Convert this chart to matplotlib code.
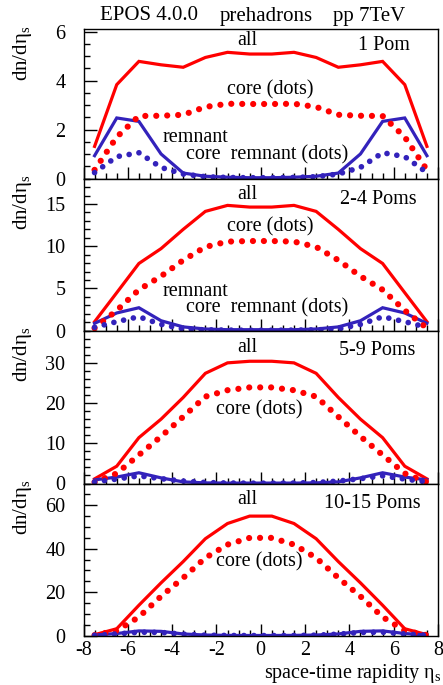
import matplotlib

matplotlib.use("Agg")
import matplotlib.pyplot as plt
from matplotlib.ticker import MultipleLocator

plt.rcParams["font.family"] = ["Liberation Serif", "DejaVu Serif"]
plt.rcParams["mathtext.fontset"] = "custom"
plt.rcParams["mathtext.rm"] = "Liberation Serif"
plt.rcParams["mathtext.it"] = "Liberation Serif:italic"
plt.rcParams["axes.unicode_minus"] = False

# bin centres in space-time rapidity
eta = [-7.5, -6.5, -5.5, -4.5, -3.5, -2.5, -1.5, -0.5,
       0.5, 1.5, 2.5, 3.5, 4.5, 5.5, 6.5, 7.5]

# 1 Pomeron
all_1 = [1.32, 3.84, 4.79, 4.65, 4.55, 4.95, 5.16, 5.09,
         5.09, 5.16, 4.95, 4.55, 4.65, 4.79, 3.84, 1.32]
core_1 = [0.36, 1.70, 2.56, 2.57, 2.61, 2.93, 3.06, 3.05,
          3.05, 3.06, 2.93, 2.61, 2.57, 2.56, 1.70, 0.36]
remn_1 = [0.94, 2.48, 2.34, 1.01, 0.23, 0.10, 0.06, 0.04,
          0.04, 0.06, 0.10, 0.23, 1.01, 2.34, 2.48, 0.94]
coremn_1 = [0.25, 0.90, 1.06, 0.46, 0.19, 0.08, 0.05, 0.04,
            0.04, 0.05, 0.08, 0.19, 0.46, 1.06, 0.90, 0.25]

# 2-4 Pomerons
all_2 = [1.06, 4.50, 7.96, 9.72, 12.0, 14.13, 14.84, 14.64,
         14.64, 14.84, 14.13, 12.0, 9.72, 7.96, 4.50, 1.06]
core_2 = [0.30, 2.40, 4.85, 6.45, 8.35, 9.92, 10.55, 10.62,
          10.62, 10.55, 9.92, 8.35, 6.45, 4.85, 2.40, 0.30]
remn_2 = [0.87, 2.10, 2.72, 1.18, 0.45, 0.20, 0.12, 0.12,
          0.12, 0.12, 0.20, 0.45, 1.18, 2.72, 2.10, 0.87]
coremn_2 = [0.40, 1.07, 1.65, 0.75, 0.20, 0.10, 0.07, 0.05,
            0.05, 0.07, 0.10, 0.20, 0.75, 1.65, 1.07, 0.40]

# 5-9 Pomerons
all_3 = [1.15, 4.3, 11.4, 16.0, 21.4, 27.4, 30.0, 30.4,
         30.4, 30.0, 27.4, 21.4, 16.0, 11.4, 4.3, 1.15]
core_3 = [0.35, 2.5, 7.1, 11.7, 16.6, 21.6, 23.2, 23.9,
          23.9, 23.2, 21.6, 16.6, 11.7, 7.1, 2.5, 0.35]
remn_3 = [0.90, 1.60, 2.67, 1.40, 0.40, 0.15, 0.10, 0.10,
          0.10, 0.10, 0.15, 0.40, 1.40, 2.67, 1.60, 0.90]
coremn_3 = [0.40, 1.10, 1.90, 1.20, 0.60, 0.25, 0.12, 0.08,
            0.08, 0.12, 0.25, 0.60, 1.20, 1.90, 1.10, 0.40]

# 10-15 Pomerons
all_4 = [0.46, 3.2, 14.0, 24.3, 34.1, 44.6, 51.6, 55.0,
         55.0, 51.6, 44.6, 34.1, 24.3, 14.0, 3.2, 0.46]
core_4 = [0.25, 2.3, 8.6, 18.1, 26.6, 35.8, 41.9, 45.0,
          45.0, 41.9, 35.8, 26.6, 18.1, 8.6, 2.3, 0.25]
remn_4 = [0.30, 1.00, 2.20, 2.00, 0.80, 0.30, 0.15, 0.10,
          0.10, 0.15, 0.30, 0.80, 2.00, 2.20, 1.00, 0.30]
coremn_4 = [0.20, 0.80, 1.60, 1.50, 0.70, 0.25, 0.10, 0.07,
            0.07, 0.10, 0.25, 0.70, 1.50, 1.60, 0.80, 0.20]

pom_labels = ["1 Pom", "2-4 Poms", "5-9 Poms", "10-15 Poms"]
y_tops = [6.1, 18, 38, 70]
y_major = [2, 5, 10, 20]
y_minor = [0.5, 1, 2, 5]

RED = "#ff0000"
BLUE = "#3322bb"
W, H = 443, 685
FS = 14.5

# panel edges in pixels (top, bottom)
panel_px = [(29.3, 178.7), (178.7, 330.7), (330.7, 483.5), (483.5, 635.7)]
x_left, x_right = 83.5, 438.0

# label placement per panel, in data units
pom_xy = [(5.58, 5.42), (5.31, 15.55), (5.27, 33.1), (5.02, 60.7)]
all_y = [5.66, 16.1, 33.8, 62.5]
core_xy = [(0.42, 3.62), (0.42, 12.24), (-0.06, 18.3), (-0.06, 34.0)]
remn_y = [1.68, 4.62]
coremn_y = [0.97, 2.68]

fig = plt.figure(figsize=(W / 100, H / 100), dpi=100)

series = [
    (all_1, core_1, remn_1, coremn_1),
    (all_2, core_2, remn_2, coremn_2),
    (all_3, core_3, remn_3, coremn_3),
    (all_4, core_4, remn_4, coremn_4),
]

dotted = (0, (0.001, 1.75))

for i, (a, c, r, cr) in enumerate(series):
    top, bot = panel_px[i]
    ax = fig.add_axes([x_left / W, 1 - bot / H, (x_right - x_left) / W, (bot - top) / H])
    ax.plot(eta, a, color=RED, lw=2.3, solid_joinstyle="miter")
    ax.plot(eta, r, color=BLUE, lw=2.3, solid_joinstyle="miter")
    ax.plot(eta, c, color=RED, lw=4.5, ls=dotted, dash_capstyle="round")
    ax.plot(eta, cr, color=BLUE, lw=4.1, ls=dotted, dash_capstyle="round")

    ax.set_xlim(-8, 8)
    ax.set_ylim(0, y_tops[i])
    ax.xaxis.set_major_locator(MultipleLocator(2))
    ax.xaxis.set_minor_locator(MultipleLocator(0.5))
    ax.yaxis.set_major_locator(MultipleLocator(y_major[i]))
    ax.yaxis.set_minor_locator(MultipleLocator(y_minor[i]))
    ax.tick_params(which="both", direction="in", top=False, right=False,
                   labelsize=FS, width=1.0, color="black")
    ax.tick_params(which="major", length=9)
    ax.tick_params(which="minor", length=4.5)
    ax.tick_params(axis="y", pad=13)
    ax.tick_params(axis="x", pad=4)
    for sp in ax.spines.values():
        sp.set_linewidth(1.0)
    if i < 3:
        ax.tick_params(axis="x", labelbottom=False)
    else:
        ax.set_xlabel(r"space-time rapidity $\mathrm{\eta}_\mathrm{s}$", fontsize=FS)
        ax.xaxis.set_label_coords((W - 1 - x_left) / (x_right - x_left), -0.17)
        ax.xaxis.label.set_horizontalalignment("right")

    # y label near the top of each panel
    fig.text(22 / W, 1 - (top - 4) / H, r"dn/d$\mathrm{\eta}_\mathrm{s}$",
             rotation=90, ha="center", va="top", fontsize=15)

    ax.text(-0.62, all_y[i], "all", ha="center", va="center", fontsize=FS)
    ax.text(*pom_xy[i], pom_labels[i], ha="center", va="center", fontsize=FS)
    ax.text(*core_xy[i], "core (dots)", ha="center", va="center", fontsize=FS)
    if i < 2:
        ax.text(-2.94, remn_y[i], "remnant", ha="center", va="center", fontsize=FS)
        ax.text(0.30, coremn_y[i], "core  remnant (dots)",
                ha="center", va="center", fontsize=FS)

# header line
for x, s in [(149, "EPOS 4.0.0"), (266, "prehadrons"), (369, "pp 7TeV")]:
    fig.text(x / W, 1 - 16 / H, s, ha="center", va="center", fontsize=15)

fig.savefig("out.png", dpi=100)
